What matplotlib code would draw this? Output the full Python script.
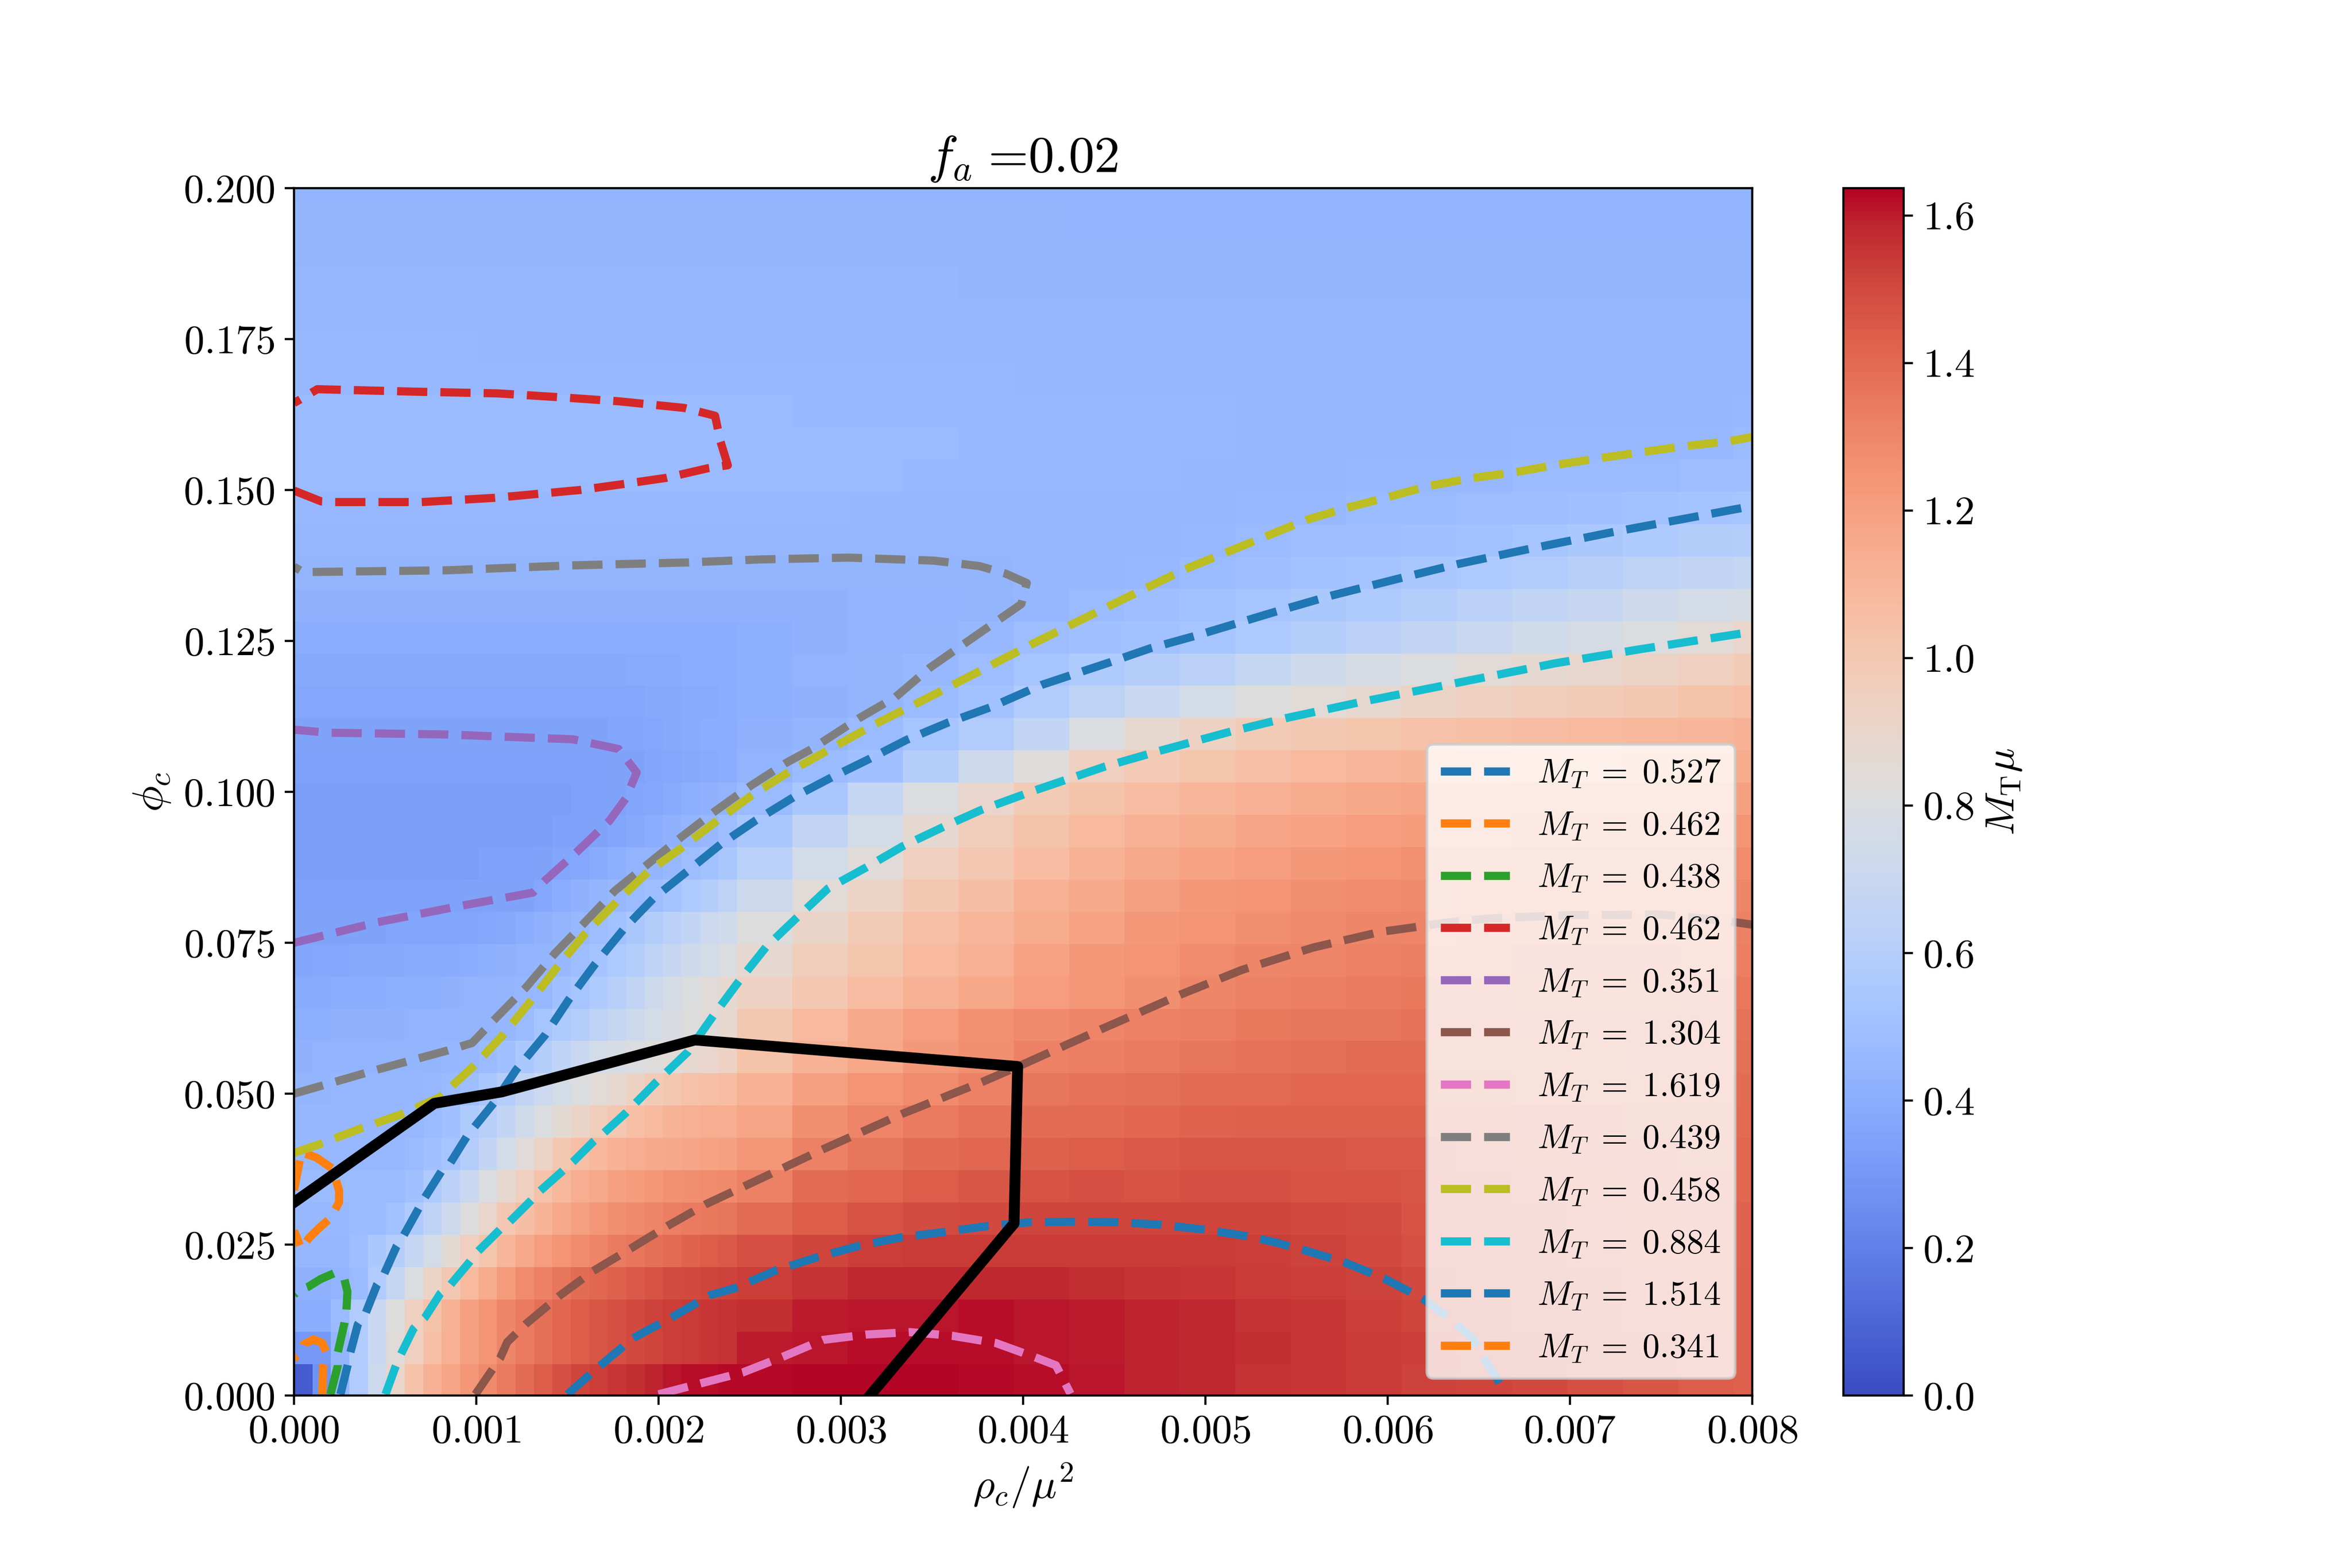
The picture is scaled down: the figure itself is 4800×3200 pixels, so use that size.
import numpy as np
import matplotlib
matplotlib.use("Agg")
import matplotlib.pyplot as plt

plt.rcParams['font.family'] = ['cmr10', 'DejaVu Sans']
plt.rcParams['mathtext.fontset'] = 'cm'
plt.rcParams['axes.unicode_minus'] = False
plt.rcParams['axes.formatter.use_mathtext'] = True

# Field M_T*mu in hundredths, bottom row first.
# Columns: 24 single grid columns, then 18 triple-wide and 1 single.
rows = [
 [6,28,44,58,72,90,103,112,118,124,129,134,139,144,148,151,153,155,157,159,161,162,162,163,163,164,164,164,163,162,161,159,158,156,155,154,152,151,150,148,146,144,143],
 [30,30,44,58,70,84,95,105,113,120,125,130,134,138,141,144,146,148,150,151,153,154,155,156,160,161,162,162,162,161,160,159,158,157,155,154,153,151,149,147,145,144,143],
 [40,40,47,58,70,82,95,103,112,120,125,130,134,138,141,144,146,148,150,152,153,154,155,156,157,160,161,161,162,161,160,159,158,156,155,153,151,149,147,145,144,143,143],
 [42,42,43,47,58,68,80,92,100,108,115,122,128,132,136,139,141,143,145,147,149,150,151,152,153,156,158,158,158,158,157,156,155,154,153,152,150,148,147,145,144,143,143],
 [45,45,45,49,55,60,68,76,86,95,102,110,116,121,125,128,131,134,136,138,140,142,144,145,148,151,153,154,154,154,154,154,154,153,152,150,148,146,145,144,143,143,142],
 [46,46,46,47,47,51,57,64,72,82,90,100,106,111,116,120,124,127,129,131,133,134,135,136,139,144,147,149,150,151,151,151,151,151,150,149,147,146,145,144,143,142,142],
 [47,47,47,47,47,47,50,57,63,70,80,88,95,103,109,114,116,120,122,124,126,127,128,129,132,139,141,144,146,147,148,147,148,148,147,147,146,145,144,143,142,142,141],
 [46,46,46,46,46,46,47,50,53,60,67,76,84,92,100,105,109,112,114,116,117,118,119,120,124,132,136,139,141,143,144,145,146,146,146,145,145,144,143,142,142,141,141],
 [45,45,45,45,45,45,46,47,50,57,61,67,74,80,86,91,96,101,105,108,111,113,114,114,118,127,131,134,137,139,140,141,142,143,143,143,143,143,142,142,141,141,140],
 [44,44,45,45,45,45,45,46,47,49,54,60,66,71,76,81,85,88,93,98,101,104,105,107,112,120,125,128,132,136,137,138,139,140,141,141,141,141,140,140,139,139,139],
 [42,43,43,43,43,44,44,44,45,46,47,50,55,60,65,70,75,78,80,83,85,88,90,93,103,112,117,123,127,132,133,134,136,137,138,139,139,139,139,139,138,138,138],
 [41,41,42,42,42,42,43,43,43,44,44,45,47,53,57,60,64,68,72,76,79,82,85,88,100,108,116,121,126,129,131,132,133,135,136,136,137,137,138,138,138,137,137],
 [39,39,40,40,40,41,41,41,42,43,43,44,45,46,50,53,57,61,66,72,77,81,84,87,93,101,107,112,117,121,124,127,130,132,133,134,135,135,136,136,136,135,135],
 [36,37,37,38,38,38,39,39,39,40,41,42,43,44,46,48,52,56,60,65,69,73,76,80,87,96,102,108,113,119,123,125,128,130,131,132,133,134,135,135,135,134,133],
 [35,35,35,35,35,36,36,36,36,36,37,38,40,42,44,46,48,51,55,59,63,67,71,74,82,91,98,105,110,115,119,123,125,127,129,130,131,132,133,133,133,133,132],
 [34,34,34,34,34,34,34,34,34,35,35,35,35,37,40,42,44,46,47,49,52,56,60,64,72,85,92,100,106,112,116,120,123,125,127,128,129,130,131,131,131,131,130],
 [33,33,33,33,33,33,33,33,33,33,34,34,34,35,36,37,39,41,43,44,46,48,51,54,62,75,84,95,101,107,112,116,119,121,123,125,126,127,128,128,128,128,128],
 [33,33,33,33,33,33,33,33,33,33,33,33,33,33,34,34,35,36,38,40,42,44,46,48,54,66,76,87,96,103,108,112,115,118,119,121,122,123,124,125,125,125,125],
 [33]*10 + [33,33,33,33,33,34,34,35,36,37,39,41,42,43,47,54,68,80,90,98,103,107,110,113,115,117,118,119,120,120,120,120,120],
 [34]*17 + [35,35,36,37,38,39,40,43,47,50,60,72,83,95,99,102,105,108,110,111,112,113,113,114,114,115],
 [35]*17 + [36,36,37,38,39,40,40,42,44,47,53,58,67,80,88,93,98,100,102,104,105,107,108,109,110,112],
 [37]*19 + [38,38,39,39,40,41,42,44,47,51,58,64,70,76,82,85,88,92,94,96,98,100,103,105],
 [38]*18 + [39,39,39,40,40,40,41,43,44,46,48,53,57,60,63,68,73,78,81,85,87,89,92,95,98],
 [40]*24 + [41,42,43,44,46,48,50,51,53,56,60,63,67,70,74,77,81,85,90],
 [42]*24 + [42,42,43,43,44,45,47,49,51,53,55,57,60,63,66,69,73,76,78],
 [44]*24 + [44,44,44,44,44,45,45,46,47,49,51,52,54,56,58,61,64,66,68],
 [45]*24 + [45,45,45,45,45,45,45,45,46,47,48,49,50,51,53,55,57,59,60],
 [46]*24 + [46,46,45,45,45,45,45,45,45,46,46,47,47,48,49,50,51,52,53],
 [47]*24 + [47,47,47,46,46,46,46,46,45,45,45,46,46,46,47,47,47,48,49],
 [47]*24 + [47,47,47,47,46,46,46,46,46,45,45,45,45,45,46,46,46,46,47],
 [47]*24 + [47,46,46,46,46,46,46,46,46,45,45,45,45,45,45,45,45,45,46],
 [46]*24 + [46,46,46,46,46] + [45]*14,
 [46]*10 + [45]*24 + [45]*9,
 [45]*43,
 [45]*28 + [44]*15,
 [44]*43,
 [44]*30 + [43]*13,
 [43]*43,
]

col_edges = list(range(24)) + list(range(24, 79, 3)) + [79]
x_edges = np.array(col_edges) * 0.008 / 79
y_edges = np.minimum(0.2, np.r_[0.0, 0.00523 + 0.00535 * np.arange(38)])

line_527 = [(.000255,.0002),(.000293,.00487),(.000309,.0071),(.00035,.01177),(.000394,.0137),(.000455,.01834),(.000494,.0201),(.000563,.02475),(.000602,.02654),(.000684,.031),(.000718,.0328),(.00081,.0372),(.000857,.0385),(.00095,.043),(.0011,.0486),(.00122,.054),(.00138,.0598),(.00151,.0657),(.00165,.0714),(.00181,.0773),(.00197,.0823),(.00216,.0869),(.00234,.0913),(.00253,.0952),(.00274,.0991),(.00295,.1024),(.00316,.1055),(.00336,.1086),(.00359,.1115),(.00382,.114),(.0041,.1177),(.00448,.1215),(.0047,.1238),(.00494,.1258),(.00538,.1298),(.00569,.1325),(.00607,.1354),(.00638,.1377),(.00677,.1402),(.00723,.143),(.00771,.1457),(.00794,.147),(.008,.1473)]
line_462a = [(0,.034),(.00004,.0403),(.000124,.0394),(.00021,.0376),(.000247,.034),(.000247,.032),(.0002,.0294),(.000147,.028),(.000085,.0262),(.00004,.0243),(0,.0273)]
line_438 = [(.0002,.0002),(.00024,.0049),(.00024,.0071),(.000276,.0119),(.000288,.0142),(.000293,.0172),(.000277,.0192),(.000223,.0203),(.000147,.0193),(.000077,.018),(.000023,.0174),(0,.0167)]
line_462b = [(0,.1499),(.00015,.1481),(.00022,.148),(.0007,.148),(.0011,.1487),(.00157,.15),(.00181,.151),(.00204,.152),(.00227,.1536),(.00238,.1541),(.00234,.158),(.00231,.1623),(.00214,.1636),(.00178,.1647),(.00144,.1654),(.00112,.166),(.000647,.1663),(.000128,.1667),(0,.1644)]
line_351 = [(0,.075),(.000458,.0784),(.00093,.0812),(.00131,.0833),(.00138,.0854),(.00155,.09),(.00173,.0952),(.00182,.0989),(.00188,.1032),(.00178,.1071),(.00153,.1087),(.00084,.1095),(.000185,.1098),(0,.1103)]
line_1304 = [(.000995,.0002),(.00113,.00614),(.00117,.00885),(.00127,.0118),(.00146,.0166),(.00164,.0206),(.00185,.0244),(.00205,.0281),(.00226,.0317),(.00248,.0348),(.00291,.0409),(.00334,.0467),(.00378,.052),(.00398,.0546),(.00443,.0607),(.00487,.0665),(.0052,.0705),(.00559,.0742),(.00596,.0768),(.00613,.0775),(.00631,.0783),(.00655,.079),(.00678,.0793),(.00702,.0796),(.00726,.0796),(.00749,.0797),(.00773,.079),(.00793,.0783),(.008,.078)]
line_1619 = [(.002,.0002),(.00223,.002),(.00246,.0038),(.00268,.0064),(.0029,.0092),(.00314,.0101),(.00338,.0105),(.00361,.0099),(.00385,.0087),(.00406,.0064),(.00418,.005),(.00426,.0003)]
line_439 = [(0,.05),(.000458,.054),(.000836,.0571),(.000977,.0584),(.00112,.0629),(.00127,.0675),(.00143,.0732),(.00159,.0782),(.00176,.0836),(.00194,.088),(.00212,.0924),(.00231,.0968),(.0025,.1009),(.0027,.1048),(.00284,.1071),(.0031,.1122),(.0033,.1157),(.00349,.1206),(.00378,.1267),(.00399,.1311),(.00402,.1346),(.0039,.1362),(.00376,.1374),(.00351,.1383),(.00304,.1388),(.00256,.1385),(.00216,.138),(.00151,.1375),(.00084,.1367),(.00005,.1364),(0,.1373)]
line_458 = [(0,.0402),(.000137,.0416),(.000363,.0442),(.00059,.0466),(.0008,.0494),(.000986,.0546),(.00114,.0595),(.0013,.0654),(.00145,.0712),(.0016,.0766),(.00177,.0818),(.00194,.0867),(.00213,.0908),(.00232,.0952),(.00251,.0994),(.00271,.1032),(.00318,.1111),(.0034,.1144),(.00355,.1167),(.00405,.1245),(.00448,.1309),(.00489,.1369),(.00533,.1423),(.00556,.1451),(.00577,.147),(.00601,.1489),(.00623,.1507),(.00647,.152),(.00671,.153),(.00693,.1542),(.00717,.1553),(.0074,.1563),(.00764,.1573),(.00788,.1581),(.008,.1588)]
line_884 = [(.000502,.0002),(.000556,.0047),(.000586,.0068),(.000656,.0111),(.000718,.0129),(.000803,.0169),(.000857,.0183),(.000965,.0222),(.00101,.0239),(.00113,.0275),(.00118,.0287),(.0013,.0323),(.00135,.0339),(.00147,.0371),(.00153,.0387),(.00164,.042),(.0017,.0435),(.00182,.0468),(.00199,.052),(.00216,.0569),(.0023,.0629),(.00244,.0686),(.00259,.0743),(.00276,.0792),(.00293,.084),(.00314,.0875),(.00334,.091),(.00357,.0943),(.00377,.097),(.00407,.1003),(.00445,.1042),(.00475,.1068),(.00514,.11),(.00544,.1122),(.00584,.1148),(.00614,.1166),(.00692,.1213),(.00738,.1236),(.00787,.1259),(.008,.1265)]
line_1514 = [(.0015,.0002),(.00167,.0047),(.00186,.0095),(.00207,.0129),(.00228,.0166),(.00242,.0178),(.00265,.0208),(.00287,.0229),(.0031,.0248),(.00333,.0262),(.00357,.0271),(.00381,.0281),(.00404,.0287),(.00428,.0288),(.00452,.0287),(.00475,.0283),(.00499,.0275),(.00523,.0264),(.00538,.0254),(.00554,.0241),(.00576,.0221),(.00598,.0194),(.00619,.0161),(.00636,.0123),(.00647,.0094),(.00651,.007),(.0066,.0028),(.00664,.0003)]
line_341 = [(.000155,.0002),(.00016,.005),(.000175,.0073),(.000155,.0087),(.000107,.0093),(.000054,.0085),(.00004,.0071),(0,.0062)]
line_black = [(0,.032),(.00077,.0484),(.00114,.0503),(.0022,.0589),(.00397,.0545),(.00395,.0285),(.00316,0)]

curves = [(line_527, "0.527"), (line_462a, "0.462"), (line_438, "0.438"), (line_462b, "0.462"),
          (line_351, "0.351"), (line_1304, "1.304"), (line_1619, "1.619"), (line_439, "0.439"),
          (line_458, "0.458"), (line_884, "0.884"), (line_1514, "1.514"), (line_341, "0.341")]

fig, ax = plt.subplots(figsize=(12, 8), dpi=400)
Z = np.array(rows) / 100.0
pcm = ax.pcolormesh(x_edges, y_edges, Z, cmap='coolwarm', vmin=0.0, vmax=1.637, shading='flat')
for pts, lab in curves:
    xs, ys = zip(*pts)
    ax.plot(xs, ys, '--', lw=3, label=f"$M_T\\;=\\;{lab}$")
xs, ys = zip(*line_black)
ax.plot(xs, ys, '-', color='k', lw=4)
ax.set_xlim(0, 0.008)
ax.set_ylim(0, 0.2)
ax.tick_params(labelsize=14.9)
ax.set_xlabel(r"$\rho_c/\mu^2$", fontsize=15.5)
ax.set_ylabel(r"$\phi_c$", fontsize=16)
ax.set_title(r"$f_a\;$=0.02", fontsize=19)
ax.legend(loc='lower right', fontsize=12.65, labelspacing=0.6)
cb = fig.colorbar(pcm, ax=ax)
cb.ax.tick_params(labelsize=14.9)
cb.set_label(r"$M_{\rm T}\mu$", fontsize=15)
fig.savefig("out.png", dpi=400)
